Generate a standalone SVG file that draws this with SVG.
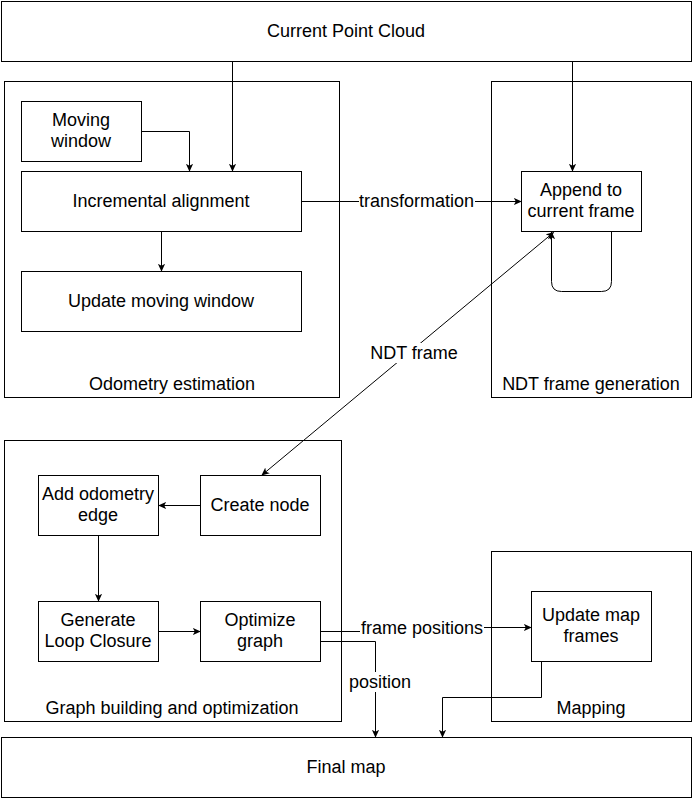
<svg xmlns="http://www.w3.org/2000/svg" width="693" height="800" viewBox="0 0 693 800">
<defs>
<marker id="arr" viewBox="0 0 10 10" refX="9" refY="5" markerWidth="8" markerHeight="8" markerUnits="userSpaceOnUse" orient="auto-start-reverse">
<path d="M0,0.5 L10,5 L0,9.5 L2.5,5 Z" fill="#000"/>
</marker>
<style>
.box{fill:#fff;stroke:#000;stroke-width:1}
.cont{fill:none;stroke:#000;stroke-width:1}
text{font-family:"Liberation Sans",Arial,sans-serif;font-size:18px;fill:#000;text-anchor:middle;dominant-baseline:central}
.edge{fill:none;stroke:#000;stroke-width:1;marker-end:url(#arr)}
.lbl{fill:#fff;stroke:none}
</style>
</defs>
<rect width="693" height="800" fill="#fff"/>
<g id="containers">
<g id="odometry"><rect class="cont" x="4.5" y="81.5" width="335" height="316"/><text x="172" y="384">Odometry estimation</text></g>
<g id="ndtgen"><rect class="cont" x="491.5" y="81.5" width="200" height="316"/><text x="591" y="384">NDT frame generation</text></g>
<g id="graph"><rect class="cont" x="4.5" y="440.5" width="337" height="281"/><text x="172" y="708">Graph building and optimization</text></g>
<g id="mapping"><rect class="cont" x="491.5" y="551.5" width="200" height="170"/><text x="591" y="708">Mapping</text></g>
</g>
<g id="cpc"><rect class="box" x="1.5" y="1.5" width="690" height="60"/><text x="346" y="31">Current Point Cloud</text></g>
<g id="movingwindow"><rect class="box" x="21.5" y="101.5" width="120" height="60"/><text x="81" y="120">Moving</text><text x="81" y="141">window</text></g>
<g id="incremental"><rect class="box" x="21.5" y="171.5" width="280" height="60"/><text x="161" y="201">Incremental alignment</text></g>
<g id="updatemw"><rect class="box" x="21.5" y="271.5" width="280" height="60"/><text x="161" y="301">Update moving window</text></g>
<g id="append"><rect class="box" x="521.5" y="171.5" width="120" height="60"/><text x="581" y="190">Append to</text><text x="581" y="211">current frame</text></g>
<g id="addodom"><rect class="box" x="38.5" y="475.5" width="120" height="60"/><text x="98" y="494">Add odometry</text><text x="98" y="515">edge</text></g>
<g id="createnode"><rect class="box" x="200.5" y="475.5" width="120" height="60"/><text x="260" y="505">Create node</text></g>
<g id="genloop"><rect class="box" x="38.5" y="601.5" width="120" height="60"/><text x="98" y="620">Generate</text><text x="98" y="641">Loop Closure</text></g>
<g id="optimize"><rect class="box" x="200.5" y="601.5" width="120" height="60"/><text x="260" y="620">Optimize</text><text x="260" y="641">graph</text></g>
<g id="updatemap"><rect class="box" x="531.5" y="591.5" width="120" height="70"/><text x="591" y="615">Update map</text><text x="591" y="636">frames</text></g>
<g id="finalmap"><rect class="box" x="1.5" y="737.5" width="690" height="60"/><text x="346" y="767">Final map</text></g>
<g id="connectors">
<path class="edge" d="M232.5,61.5 V171"/>
<path class="edge" d="M572.5,61.5 V171"/>
<path class="edge" d="M141.5,131.5 H189.5 V171"/>
<path class="edge" d="M161.5,231.5 V271"/>
<path class="edge" d="M301.5,201.5 H521"/>
<rect class="lbl" x="359" y="191" width="116" height="20"/><text x="416.5" y="201">transformation</text>
<path class="edge" d="M611.5,231.5 V281.5 Q611.5,291.5 601.5,291.5 H561.5 Q551.5,291.5 551.5,281.5 V232"/>
<path class="edge" style="marker-start:url(#arr)" d="M553.5,232.5 L262,475"/>
<rect class="lbl" x="369" y="343" width="90" height="20"/><text x="414" y="353">NDT frame</text>
<path class="edge" d="M200.5,505.5 H159"/>
<path class="edge" d="M98.5,535.5 V601"/>
<path class="edge" d="M158.5,631.5 H200"/>
<path class="edge" d="M320.5,631.5 H420.5 V627.5 H531"/>
<rect class="lbl" x="360" y="618" width="124" height="20"/><text x="422" y="628">frame positions</text>
<path class="edge" d="M320.5,641.5 H375.5 V737"/>
<rect class="lbl" x="348" y="672" width="64" height="20"/><text x="380" y="682">position</text>
<path class="edge" d="M541.5,661.5 V697.5 H442.5 V737"/>
</g>
</svg>
